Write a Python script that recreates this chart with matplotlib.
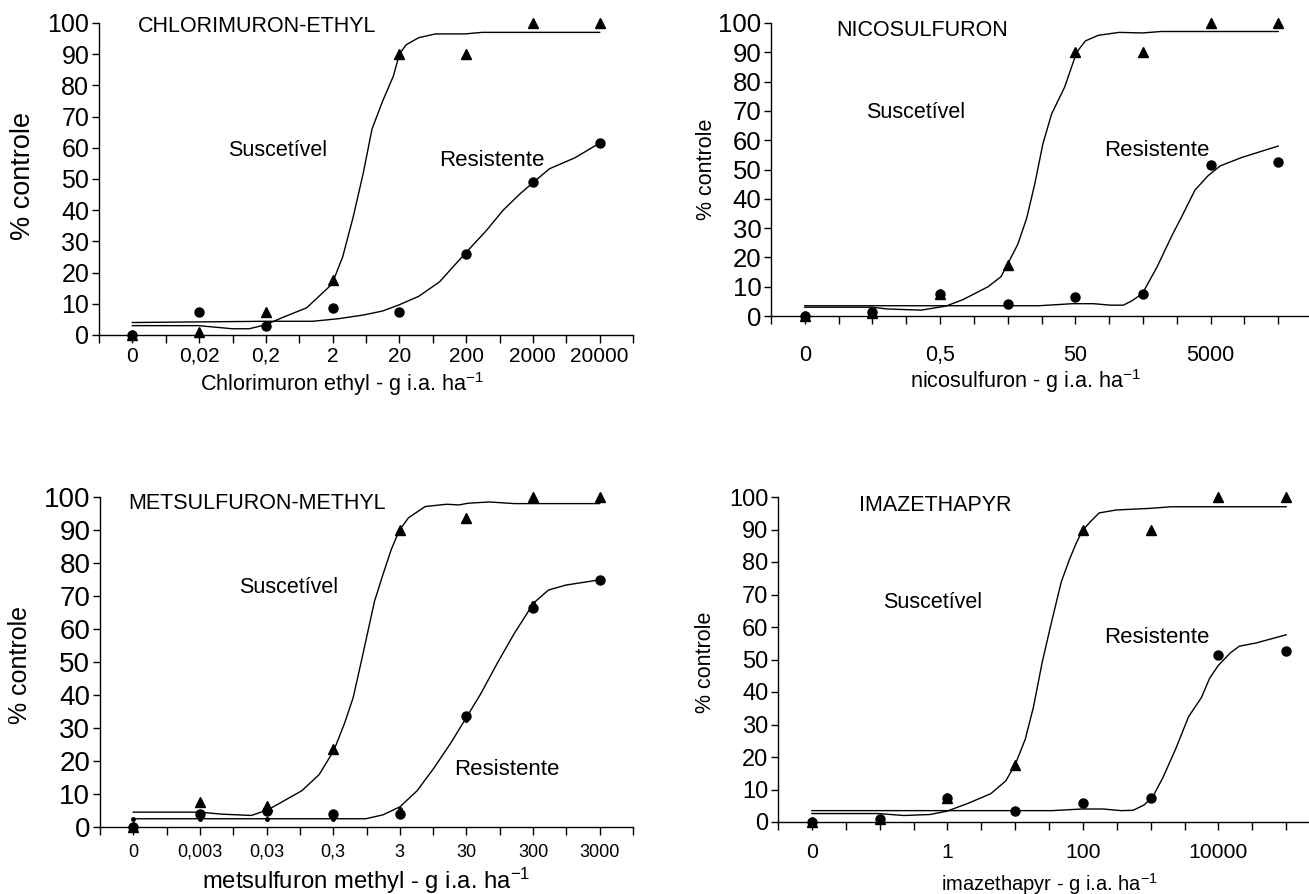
import matplotlib
matplotlib.use("Agg")
import matplotlib.pyplot as plt

plt.rcParams["font.family"] = ["Liberation Sans", "DejaVu Sans"]
plt.rcParams["mathtext.fontset"] = "custom"
plt.rcParams["mathtext.rm"] = "Liberation Sans"
plt.rcParams["mathtext.default"] = "regular"

positions = [0, 1, 2, 3, 4, 5, 6, 7]

# chlorimuron-ethyl
chl_labels = ["0", "0,02", "0,2", "2", "20", "200", "2000", "20000"]
chl_sus = [0, 1, 7.5, 17.5, 90, 90, 100, 100]
chl_res = [0, 7.5, 3, 8.5, 7.5, 26, 49, 61.5]
chl_sus_fit_x = [0, 0.99, 1.5, 1.75, 2.0, 2.26, 2.61, 2.99, 3.15, 3.31, 3.46, 3.59, 3.75, 3.91, 4.0, 4.1, 4.29, 4.54, 4.98, 5.24, 7]
chl_sus_fit_y = [3.0, 3.0, 2.0, 2.0, 3.3, 5.7, 8.7, 16.3, 25, 38, 52, 66, 75, 83, 90, 93, 95.3, 96.5, 96.5, 97, 97]
chl_res_fit_x = [0, 2.0, 2.7, 3.08, 3.46, 3.75, 4.0, 4.29, 4.6, 4.98, 5.3, 5.55, 5.81, 6.0, 6.25, 6.63, 7]
chl_res_fit_y = [4.0, 4.4, 4.4, 5.2, 6.4, 7.7, 9.7, 12.4, 17, 26, 33.4, 39.9, 45.3, 48.8, 53.3, 56.8, 61.5]

# nicosulfuron
nic_labels = ["0", "", "0,5", "", "50", "", "5000", ""]
nic_sus = [0, 1, 7.5, 17.5, 90, 90, 100, 100]
nic_res = [0, 1.5, 7.5, 4, 6.5, 7.5, 51.5, 52.5]
nic_sus_fit_x = [0, 0.99, 1.22, 1.72, 2.09, 2.34, 2.71, 2.9, 2.99, 3.15, 3.28, 3.4, 3.52, 3.65, 3.84, 3.96, 4.02, 4.15, 4.34, 4.65, 4.99, 5.27, 7]
nic_sus_fit_y = [3.0, 3.0, 2.4, 2.0, 3.4, 5.6, 10, 13.4, 17.3, 24.5, 33.3, 45, 58.7, 69, 78, 86, 90, 93.9, 95.8, 96.8, 96.6, 97.1, 97.1]
nic_res_fit_x = [0, 2.09, 3.46, 3.96, 4.27, 4.52, 4.71, 4.83, 4.99, 5.21, 5.43, 5.58, 5.77, 5.96, 6.14, 6.46, 7]
nic_res_fit_y = [3.5, 3.5, 3.5, 4.2, 4.2, 3.7, 3.7, 5.1, 7.6, 16.8, 27.5, 34.2, 43, 47.8, 51.2, 54.1, 58]

# metsulfuron-methyl
met_labels = ["0", "0,003", "0,03", "0,3", "3", "30", "300", "3000"]
met_sus = [0, 7.5, 6.5, 23.5, 90, 93.5, 100, 100]
met_res = [0, 4, 5, 4, 4, 33.5, 66.5, 75]
met_sus_fit_x = [0, 1.0, 1.32, 1.77, 2.02, 2.53, 2.79, 3.01, 3.17, 3.3, 3.43, 3.62, 3.75, 3.87, 3.99, 4.13, 4.38, 4.7, 4.89, 5.02, 5.34, 5.72, 7]
met_sus_fit_y = [4.5, 4.5, 3.9, 3.5, 5.2, 11, 15.9, 23.2, 31.4, 39.2, 50.9, 68.4, 76.7, 84, 89.8, 93.7, 97.1, 97.8, 97.6, 98.1, 98.5, 98, 98]
met_res_fit_x = [0, 3.49, 3.75, 4.0, 4.26, 4.51, 4.77, 4.99, 5.21, 5.47, 5.72, 6.01, 6.23, 6.49, 7]
met_res_fit_y = [2.5, 2.5, 3.7, 6.1, 11, 17.8, 25.6, 32.9, 40.2, 49.9, 58.7, 67.9, 71.8, 73.3, 74.9]
met_res_dots = [2.5, 2.5, 2.5, 2.5, 5.5, 32.5, 68, 75]

# imazethapyr
ima_labels = ["0", "", "1", "", "100", "", "10000", ""]
ima_sus = [0, 1, 7.5, 17.5, 90, 90, 100, 100]
ima_res = [0, 1, 7.5, 3.5, 6, 7.5, 51.5, 52.5]
ima_sus_fit_x = [0, 0.98, 1.36, 1.74, 1.99, 2.3, 2.64, 2.86, 3.0, 3.15, 3.27, 3.4, 3.52, 3.68, 3.8, 3.9, 3.99, 4.12, 4.24, 4.49, 4.99, 5.31, 7]
ima_sus_fit_y = [2.6, 2.6, 2.0, 2.3, 3.3, 5.7, 8.7, 12.6, 17.6, 25.5, 35.3, 49.2, 60, 73.8, 80.7, 85.7, 89.6, 92.6, 95.1, 96, 96.5, 97, 97]
ima_res_fit_x = [0, 3.55, 3.99, 4.3, 4.56, 4.74, 4.9, 5.03, 5.18, 5.37, 5.56, 5.75, 5.87, 6.0, 6.18, 6.31, 6.56, 7]
ima_res_fit_y = [3.5, 3.5, 4.0, 4.0, 3.5, 3.6, 5.2, 7.7, 13.6, 22.5, 32.4, 38.3, 44.2, 48.2, 52.1, 54.1, 55.1, 57.6]

W, H = 1309, 894
fig = plt.figure(figsize=(W / 100, H / 100), dpi=100)


def panel(box, labels, sus, res, sfx, sfy, rfx, rfy, title, title_xy, sus_xy, res_xy,
          xlabel, xl_xy, yl_xy, yfs=20, xtfs=15, ytfs=18, tfs=15.5, xlfs=15.6,
          xpad=2.5, dots=None):
    l, b, r, t = box
    ax = fig.add_axes([l / W, 1 - b / H, (r - l) / W, (b - t) / H])
    ax.plot(sfx, sfy, color="black", lw=1.0)
    ax.plot(rfx, rfy, color="black", lw=1.0)
    if dots is not None:
        ax.plot(positions, dots, "o", color="black", ms=2.5, ls="none")
    ax.plot(positions, sus, "^", color="black", ms=6.5, ls="none", clip_on=False)
    ax.plot(positions, res, "o", color="black", ms=6.5, ls="none", clip_on=False)
    ax.set_xlim(-0.5, 7.5)
    ax.set_ylim(0, 100)
    ax.set_yticks(range(0, 101, 10))
    ax.set_xticks([p - 0.5 for p in positions] + [7.5], minor=True)
    ax.set_xticks(positions)
    ax.set_xticklabels(labels)
    ax.tick_params(axis="x", which="both", direction="out", length=6, width=1,
                   pad=xpad, labelsize=xtfs)
    ax.tick_params(axis="y", direction="out", length=5, width=1, pad=2, labelsize=ytfs)
    for s in ["top", "right"]:
        ax.spines[s].set_visible(False)
    for s in ["left", "bottom"]:
        ax.spines[s].set_linewidth(1.0)
    ax.patch.set_alpha(0)
    ax.text(title_xy[0], title_xy[1], title, fontsize=tfs, va="center", ha="left")
    ax.text(sus_xy[0], sus_xy[1], "Suscetível", fontsize=tfs, va="center", ha="left")
    ax.text(res_xy[0], res_xy[1], "Resistente", fontsize=tfs + 0.5, va="center", ha="left")
    ax.set_xlabel(xlabel + " - g i.a. ha$^{-1}$", fontsize=xlfs)
    ax.xaxis.set_label_coords(*xl_xy)
    ax.set_ylabel("% controle", fontsize=yfs)
    ax.yaxis.set_label_coords(*yl_xy)
    return ax


panel((99, 335, 633, 23), chl_labels, chl_sus, chl_res,
      chl_sus_fit_x, chl_sus_fit_y, chl_res_fit_x, chl_res_fit_y,
      "CHLORIMURON-ETHYL", (0.076, 99), (1.44, 59), (4.6, 56),
      "Chlorimuron ethyl", (0.455, -0.112), (-0.118, 0.51),
      yfs=19.5, xtfs=15, ytfs=18, xpad=2.5)

panel((771, 316, 1312, 23), nic_labels, nic_sus, nic_res,
      nic_sus_fit_x, nic_sus_fit_y, nic_res_fit_x, nic_res_fit_y,
      "NICOSULFURON", (0.47, 97.3), (0.9, 69.3), (4.43, 56.5),
      "nicosulfuron", (0.47, -0.174), (-0.1, 0.5),
      yfs=15.5, xtfs=15.5, ytfs=18.5, xpad=15)

panel((100, 827, 633, 497), met_labels, met_sus, met_res,
      met_sus_fit_x, met_sus_fit_y, met_res_fit_x, met_res_fit_y,
      "METSULFURON-METHYL", (-0.08, 98), (1.58, 72.5), (4.82, 17.5),
      "metsulfuron methyl", (0.5, -0.118), (-0.128, 0.49),
      yfs=18, xtfs=13, ytfs=20, xlfs=17.2, xpad=6, dots=met_res_dots)

panel((778, 822, 1320, 497), ima_labels, ima_sus, ima_res,
      ima_sus_fit_x, ima_sus_fit_y, ima_res_fit_x, ima_res_fit_y,
      "IMAZETHAPYR", (0.70, 97.5), (1.05, 67.4), (4.32, 56.9),
      "imazethapyr", (0.5, -0.15), (-0.114, 0.49),
      yfs=15.5, xtfs=15.3, ytfs=17, xlfs=14.5, xpad=9)

fig.savefig("out.png", dpi=100)
